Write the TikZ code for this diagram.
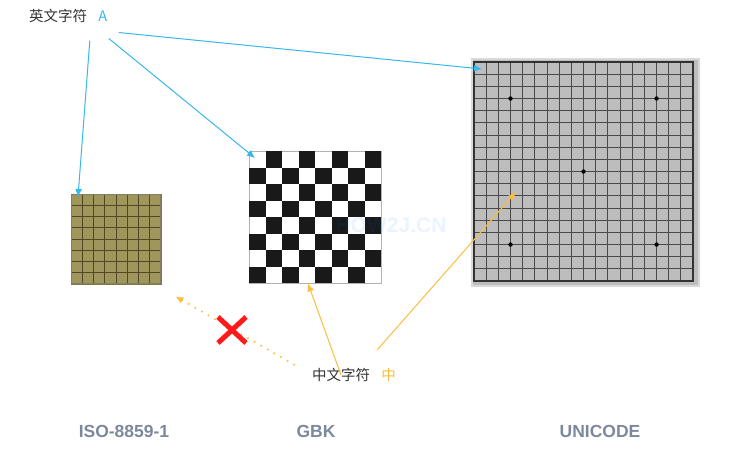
\documentclass[tikz,border=0pt]{standalone}
\usepackage{fontspec}
\setmainfont{Liberation Sans}
\newfontfamily\cjk{Noto Sans CJK SC}
\usepackage{xcolor}
\usetikzlibrary{positioning,arrows.meta,shapes.misc}
\definecolor{skyline}{HTML}{35B8EA}
\definecolor{goldline}{HTML}{FBBD3D}
\definecolor{olivefill}{HTML}{9E965B}
\definecolor{oliveline}{HTML}{4F4726}
\definecolor{boardfill}{HTML}{BDBDBD}
\definecolor{boardline}{HTML}{4A4A4A}
\definecolor{enclabel}{HTML}{7E889D}

\begin{document}
\begin{tikzpicture}[x=1pt, y=-1pt, >={Latex[length=8pt,width=7pt]},
  every node/.style={inner sep=0pt},
  cntext/.style={font=\cjk\fontsize{14.5}{16}\selectfont, text=black!80},
  encname/.style={font=\bfseries\fontsize{17.5}{20}\selectfont, text=enclabel},
  charbox/.style={anchor=north west, minimum width=#1, minimum height=#1},
  bluearrow/.style={->, draw=skyline, line width=1pt},
  goldarrow/.style={->, draw=goldline, line width=1pt}]
  \useasboundingbox (0,0) rectangle (741,455);

  % the three character sets
  \node[charbox=90, fill=olivefill, draw=olivefill!80!black] (iso) at (71,194) {};
  \foreach \k in {1,...,7} {
    \draw[oliveline, line width=1pt] (71+11.25*\k,194) -- (71+11.25*\k,284);
    \draw[oliveline, line width=1pt] (71,194+11.25*\k) -- (161,194+11.25*\k);
  }
  \draw[oliveline!70, line width=1pt] (71.5,194.5) rectangle (160.5,283.5);
  \node[charbox=132, fill=white, draw=black!30] (gbk) at (249,151) {};
  \foreach \i in {0,...,7}
    \foreach \j in {0,...,3} {
      \pgfmathtruncatemacro\c{2*\j+1-mod(\i,2)}
      \fill[black!90] (249+16.5*\c,151+16.5*\i) rectangle ++(16.5,16.5);
    }
  \node[charbox=227, fill=boardfill, draw=black!15, line width=2pt] (uni) at (471,58) {};
  \foreach \k in {0,...,18} {
    \draw[boardline, line width=0.9pt] (474+12.17*\k,62) -- (474+12.17*\k,281);
    \draw[boardline, line width=0.9pt] (474,62+12.17*\k) -- (693,62+12.17*\k);
  }
  \draw[black!80, line width=1.8pt] (474,62) rectangle (693,281);
  \foreach \p/\q in {3/3,15/3,9/9,3/15,15/15}
    \fill (474+12.17*\p,62+12.17*\q) circle (2.2);

  \node[font=\bfseries\fontsize{21}{24}\selectfont, text=blue!60!cyan, opacity=0.08] (mark) at (391,225) {HOW2J.CN};

  % labels
  \node[cntext] (entext) at (58,16) {英文字符};
  \node[cntext, text=skyline, right=11pt of entext] (enchar) {A};
  \node[cntext] (zhtext) at (341,375) {中文字符};
  \node[cntext, text=goldline, right=11pt of zhtext] (zhchar) {中};
  \node[encname] (isoname) at (124,431) {ISO-8859-1};
  \node[encname] (gbkname) at (316,431) {GBK};
  \node[encname] (uniname) at (600,431) {UNICODE};

  % connectors
  \draw[bluearrow] ([shift={(-13,19)}]enchar.south) -- ([shift={(7,3)}]iso.north west);
  \draw[bluearrow] ([shift={(6,17)}]enchar.south) -- ([shift={(6,7)}]gbk.north west);
  \draw[bluearrow] ([shift={(16,11)}]enchar.south) -- ([shift={(11,11)}]uni.north west);
  \draw[goldarrow] ([yshift=-7]zhtext.north) -- ([xshift=59]gbk.south west);
  \draw[goldarrow] ([shift={(36,-18)}]zhtext.north) -- ([shift={(45,-95)}]uni.south west);
  \draw[goldarrow, dash pattern=on 1.6pt off 6pt, line width=1.6pt] ([shift={(-17,-10)}]zhtext.west) -- ([shift={(14,12)}]iso.south east);
  \node[cross out, draw=red!90, line width=5pt, minimum width=23pt, minimum height=21pt] (nogo) at (232,330) {};
\end{tikzpicture}
\end{document}
